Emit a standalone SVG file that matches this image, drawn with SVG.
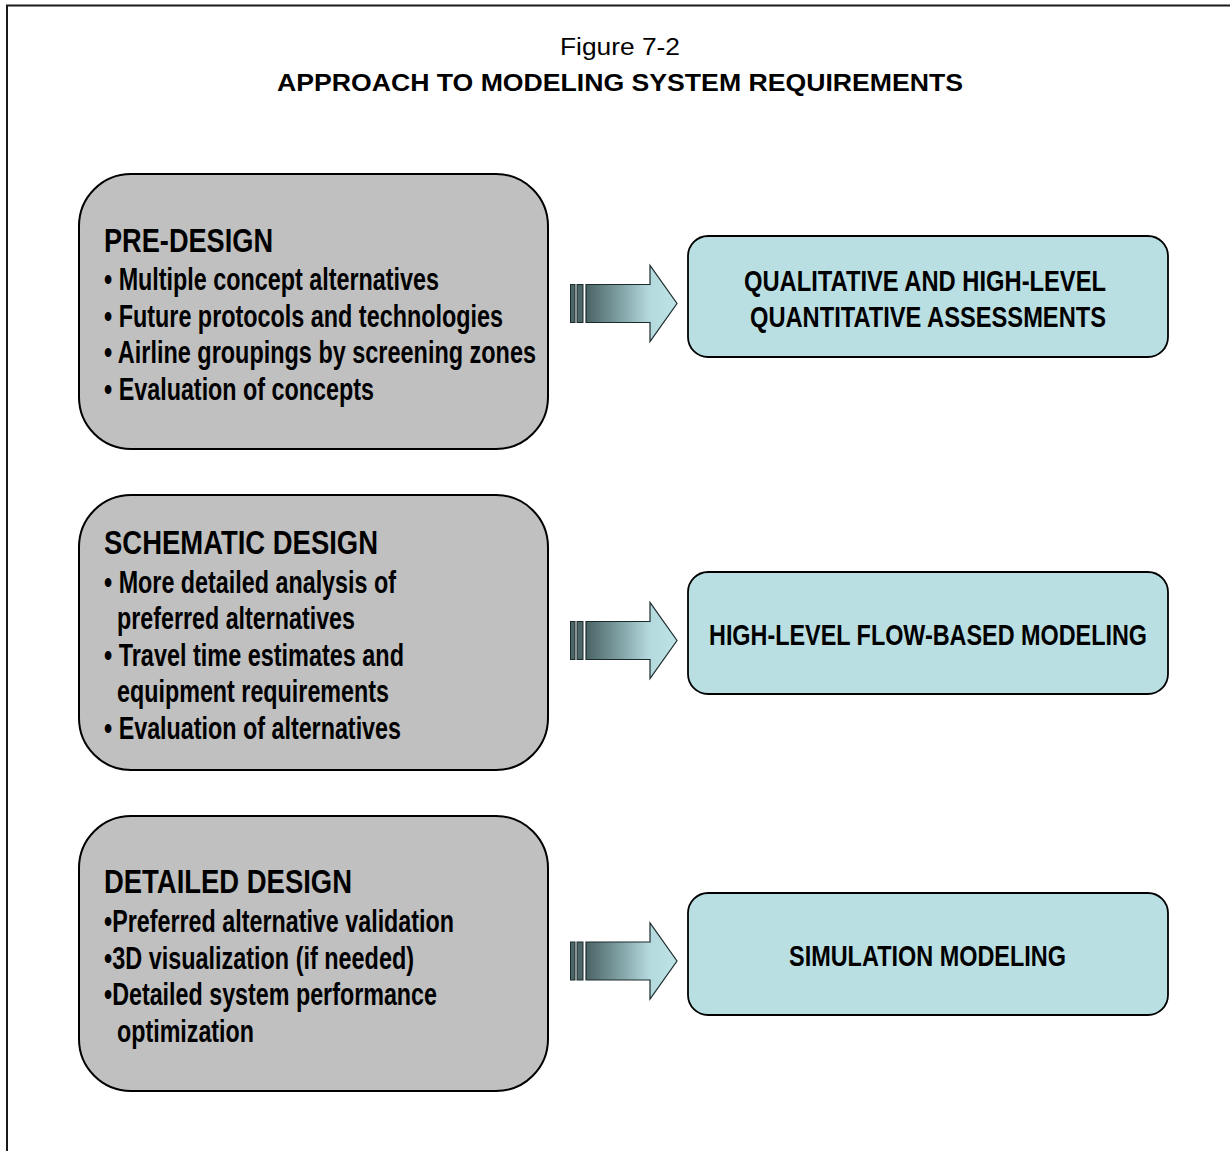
<svg xmlns="http://www.w3.org/2000/svg" xmlns:xlink="http://www.w3.org/1999/xlink" width="1230" height="1151" viewBox="0 0 1230 1151">
  <style>
    .frame { fill: none; stroke: #1a1a1a; stroke-width: 2; }
    .phase { fill: #c0c0c0; stroke: #000; stroke-width: 2; }
    .model { fill: #b9dfe3; stroke: #000; stroke-width: 1.8; }
    .cap { font-family: "Liberation Sans", Arial, sans-serif; fill: #000; }
    .narrow { font-family: "Liberation Sans Narrow", "Liberation Sans", Arial, sans-serif; font-weight: bold; fill: #000; }
    .head { font-size: 34px; }
    .item { font-size: 30.5px; }
    .mtxt { font-size: 30px; text-anchor: middle; }
    .bar { fill: #4d6769; stroke: #1c2b2c; stroke-width: 1; }
    .shaft { fill: url(#shaftGrad); stroke: #1c2b2c; stroke-width: 1.2; stroke-linejoin: miter; }
  </style>
  <defs>
    <linearGradient id="shaftGrad" x1="0" y1="0" x2="1" y2="0">
      <stop offset="0" stop-color="#4a6365"/>
      <stop offset="0.35" stop-color="#7d9da0"/>
      <stop offset="0.7" stop-color="#b5dade"/>
      <stop offset="1" stop-color="#bde3e7"/>
    </linearGradient>
    <!-- block arrow: two stripes, then a shaded shaft with a wide head -->
    <g id="fat-arrow">
      <rect class="bar" x="570.5" y="-19" width="4.5" height="38"/>
      <rect class="bar" x="577" y="-19" width="6" height="38"/>
      <path class="shaft" d="M586,-19 H650 V-38 L677,0 L650,38 V19 H586 Z"/>
    </g>
  </defs>

  <rect width="1230" height="1151" fill="#fff"/>
  <path class="frame" d="M7,1151 V5.5 H1230"/>

  <g id="title">
    <text class="cap" x="620" y="55" font-size="23" text-anchor="middle" textLength="120" lengthAdjust="spacingAndGlyphs">Figure 7-2</text>
    <text class="cap" x="620" y="91" font-size="23" font-weight="bold" text-anchor="middle" textLength="686" lengthAdjust="spacingAndGlyphs">APPROACH TO MODELING SYSTEM REQUIREMENTS</text>
  </g>

  <!-- design phases -->
  <g id="pre-design">
    <rect class="phase" x="79" y="174" width="469" height="275" rx="52" ry="52"/>
    <text class="narrow head" x="104" y="252" textLength="169" lengthAdjust="spacingAndGlyphs">PRE-DESIGN</text>
    <text class="narrow item" x="104" y="290" textLength="335" lengthAdjust="spacingAndGlyphs">• Multiple concept alternatives</text>
    <text class="narrow item" x="104" y="327" textLength="399" lengthAdjust="spacingAndGlyphs">• Future protocols and technologies</text>
    <text class="narrow item" x="104" y="363" textLength="432" lengthAdjust="spacingAndGlyphs">• Airline groupings by screening zones</text>
    <text class="narrow item" x="104" y="400" textLength="270" lengthAdjust="spacingAndGlyphs">• Evaluation of concepts</text>
  </g>

  <g id="schematic-design">
    <rect class="phase" x="79" y="495" width="469" height="275" rx="52" ry="52"/>
    <text class="narrow head" x="104" y="554" textLength="274" lengthAdjust="spacingAndGlyphs">SCHEMATIC DESIGN</text>
    <text class="narrow item" x="104" y="593" textLength="292" lengthAdjust="spacingAndGlyphs">• More detailed analysis of</text>
    <text class="narrow item" x="117" y="629" textLength="238" lengthAdjust="spacingAndGlyphs">preferred alternatives</text>
    <text class="narrow item" x="104" y="666" textLength="300" lengthAdjust="spacingAndGlyphs">• Travel time estimates and</text>
    <text class="narrow item" x="117" y="702" textLength="272" lengthAdjust="spacingAndGlyphs">equipment requirements</text>
    <text class="narrow item" x="104" y="739" textLength="297" lengthAdjust="spacingAndGlyphs">• Evaluation of alternatives</text>
  </g>

  <g id="detailed-design">
    <rect class="phase" x="79" y="816" width="469" height="275" rx="52" ry="52"/>
    <text class="narrow head" x="104" y="893" textLength="248" lengthAdjust="spacingAndGlyphs">DETAILED DESIGN</text>
    <text class="narrow item" x="104" y="932" textLength="350" lengthAdjust="spacingAndGlyphs">•Preferred alternative validation</text>
    <text class="narrow item" x="104" y="969" textLength="310" lengthAdjust="spacingAndGlyphs">•3D visualization (if needed)</text>
    <text class="narrow item" x="104" y="1005" textLength="333" lengthAdjust="spacingAndGlyphs">•Detailed system performance</text>
    <text class="narrow item" x="117" y="1042" textLength="137" lengthAdjust="spacingAndGlyphs">optimization</text>
  </g>

  <!-- modeling approaches -->
  <g id="assessments">
    <rect class="model" x="688" y="236" width="480" height="121" rx="20" ry="20"/>
    <text class="narrow mtxt" x="925" y="291" textLength="362" lengthAdjust="spacingAndGlyphs">QUALITATIVE AND HIGH-LEVEL</text>
    <text class="narrow mtxt" x="928" y="327" textLength="356" lengthAdjust="spacingAndGlyphs">QUANTITATIVE ASSESSMENTS</text>
  </g>

  <g id="flow-modeling">
    <rect class="model" x="688" y="572" width="480" height="122" rx="20" ry="20"/>
    <text class="narrow mtxt" x="928" y="645" textLength="438" lengthAdjust="spacingAndGlyphs">HIGH-LEVEL FLOW-BASED MODELING</text>
  </g>

  <g id="simulation">
    <rect class="model" x="688" y="893" width="480" height="122" rx="20" ry="20"/>
    <text class="narrow mtxt" x="927.5" y="966" textLength="277" lengthAdjust="spacingAndGlyphs">SIMULATION MODELING</text>
  </g>

  <!-- phase-to-model connectors -->
  <g id="connectors">
    <use xlink:href="#fat-arrow" transform="translate(0,303.5)"/>
    <use xlink:href="#fat-arrow" transform="translate(0,640.5)"/>
    <use xlink:href="#fat-arrow" transform="translate(0,961)"/>
  </g>
</svg>
